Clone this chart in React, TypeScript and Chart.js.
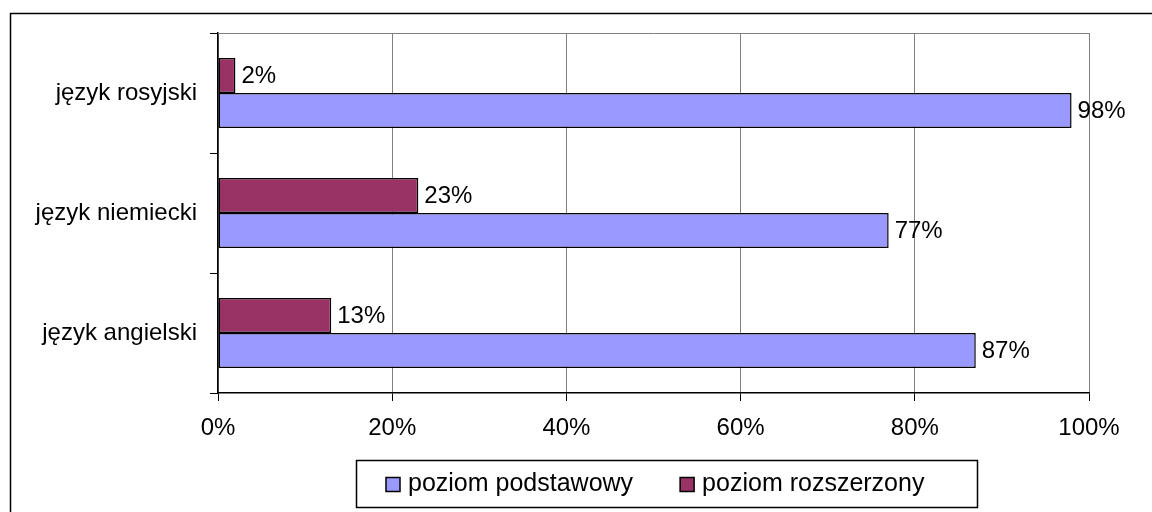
import React, { useEffect, useRef } from "react";
import { Chart, registerables } from "chart.js";

Chart.register(...registerables);

const categories = ["język rosyjski", "język niemiecki", "język angielski"];
const seriesNames = ["poziom rozszerzony", "poziom podstawowy"];
const rozszerzony = [2, 23, 13];
const podstawowy = [98, 77, 87];
const xTicks = [0, 20, 40, 60, 80, 100];
const colors = ["#993366", "#9999FF"];
const legendOrder = [1, 0];

const FONT = "'Liberation Sans', Arial, sans-serif";

const framePlugin = {
  id: "frame",
  beforeDraw(chart: any) {
    const ctx = chart.ctx;
    ctx.save();
    ctx.fillStyle = "#ffffff";
    ctx.fillRect(0, 0, chart.width, chart.height);
    ctx.strokeStyle = "#000000";
    ctx.lineWidth = 1.5;
    ctx.strokeRect(10.5, 13.5, chart.width + 20, chart.height + 20);
    ctx.restore();
  },
  afterDraw(chart: any) {
    const ctx = chart.ctx;
    const a = chart.chartArea;
    ctx.save();
    ctx.strokeStyle = "#808080";
    ctx.lineWidth = 1;
    ctx.beginPath();
    ctx.moveTo(a.left, a.top + 0.5);
    ctx.lineTo(a.right, a.top + 0.5);
    ctx.stroke();
    ctx.restore();
  },
};

const labelPlugin = {
  id: "barLabels",
  afterDatasetsDraw(chart: any) {
    const ctx = chart.ctx;
    ctx.save();
    ctx.font = `24px ${FONT}`;
    ctx.fillStyle = "#000000";
    ctx.textAlign = "left";
    ctx.textBaseline = "middle";
    chart.data.datasets.forEach((ds: any, di: number) => {
      const meta = chart.getDatasetMeta(di);
      meta.data.forEach((el: any, i: number) => {
        ctx.fillText(`${ds.data[i]}%`, el.x + 6, el.y + 1);
      });
    });
    ctx.restore();
  },
};

const legendPlugin = {
  id: "boxLegend",
  afterDraw(chart: any) {
    const ctx = chart.ctx;
    const a = chart.chartArea;
    const boxLeft = a.left + 138;
    const boxTop = a.bottom + 67;
    const boxW = 621;
    const boxH = 47;
    ctx.save();
    ctx.fillStyle = "#ffffff";
    ctx.fillRect(boxLeft, boxTop, boxW, boxH);
    ctx.strokeStyle = "#000000";
    ctx.lineWidth = 1.5;
    ctx.strokeRect(boxLeft + 0.5, boxTop + 0.5, boxW, boxH);
    ctx.font = `25px ${FONT}`;
    ctx.textBaseline = "middle";
    ctx.textAlign = "left";
    let x = boxLeft + 30;
    const cy = boxTop + boxH / 2 + 1;
    legendOrder.forEach((di) => {
      const ds = chart.data.datasets[di];
      ctx.fillStyle = ds.backgroundColor;
      ctx.fillRect(x, cy - 7, 14, 14);
      ctx.strokeStyle = "#000000";
      ctx.lineWidth = 1.5;
      ctx.strokeRect(x, cy - 7, 14, 14);
      ctx.fillStyle = "#000000";
      ctx.fillText(ds.label, x + 22, cy);
      x += 22 + ctx.measureText(ds.label).width + 47;
    });
    ctx.restore();
  },
};

export default function App() {
  const ref = useRef<HTMLCanvasElement | null>(null);

  useEffect(() => {
    if (!ref.current) return;
    const chart = new Chart(ref.current, {
      type: "bar",
      data: {
        labels: categories,
        datasets: [
          {
            label: seriesNames[0],
            data: rozszerzony,
            backgroundColor: colors[0],
            borderColor: "#000000",
            borderWidth: 1.5,
            borderSkipped: false,
            categoryPercentage: 0.583,
            barPercentage: 1,
          },
          {
            label: seriesNames[1],
            data: podstawowy,
            backgroundColor: colors[1],
            borderColor: "#000000",
            borderWidth: 1.5,
            borderSkipped: false,
            categoryPercentage: 0.583,
            barPercentage: 1,
          },
        ],
      },
      options: {
        indexAxis: "y",
        animation: false,
        responsive: false,
        devicePixelRatio: 1,
        layout: { padding: { left: 0, right: 63, top: 33, bottom: 59 } },
        plugins: {
          legend: { display: false },
          tooltip: { enabled: false },
          title: { display: false },
        },
        scales: {
          x: {
            min: 0,
            max: 100,
            afterBuildTicks: (scale: any) => {
              scale.ticks = xTicks.map((v) => ({ value: v }));
            },
            afterFit: (scale: any) => {
              scale.height = 60;
            },
            ticks: {
              callback: (v: any) => `${v}%`,
              color: "#000000",
              font: { family: FONT, size: 24 },
              padding: 13,
              maxRotation: 0,
            },
            grid: {
              color: "#808080",
              lineWidth: 1,
              tickColor: "#000000",
              tickLength: 8,
              drawTicks: true,
            },
            border: { display: true, color: "#000000", width: 1.5 },
          },
          y: {
            afterFit: (scale: any) => {
              scale.width = 218;
            },
            ticks: {
              color: "#000000",
              font: { family: FONT, size: 24 },
              padding: 13,
            },
            grid: {
              drawOnChartArea: false,
              drawTicks: true,
              tickLength: 8,
              tickColor: "#000000",
              offset: true,
            },
            border: { display: true, color: "#000000", width: 1.5 },
          },
        },
      },
      plugins: [framePlugin, labelPlugin, legendPlugin],
    });
    return () => chart.destroy();
  }, []);

  return (
    <div style={{ position: "fixed", left: 0, top: 0, width: 1152, height: 512, background: "#fff" }}>
      <canvas ref={ref} width={1152} height={512} style={{ display: "block", width: 1152, height: 512 }} />
    </div>
  );
}
